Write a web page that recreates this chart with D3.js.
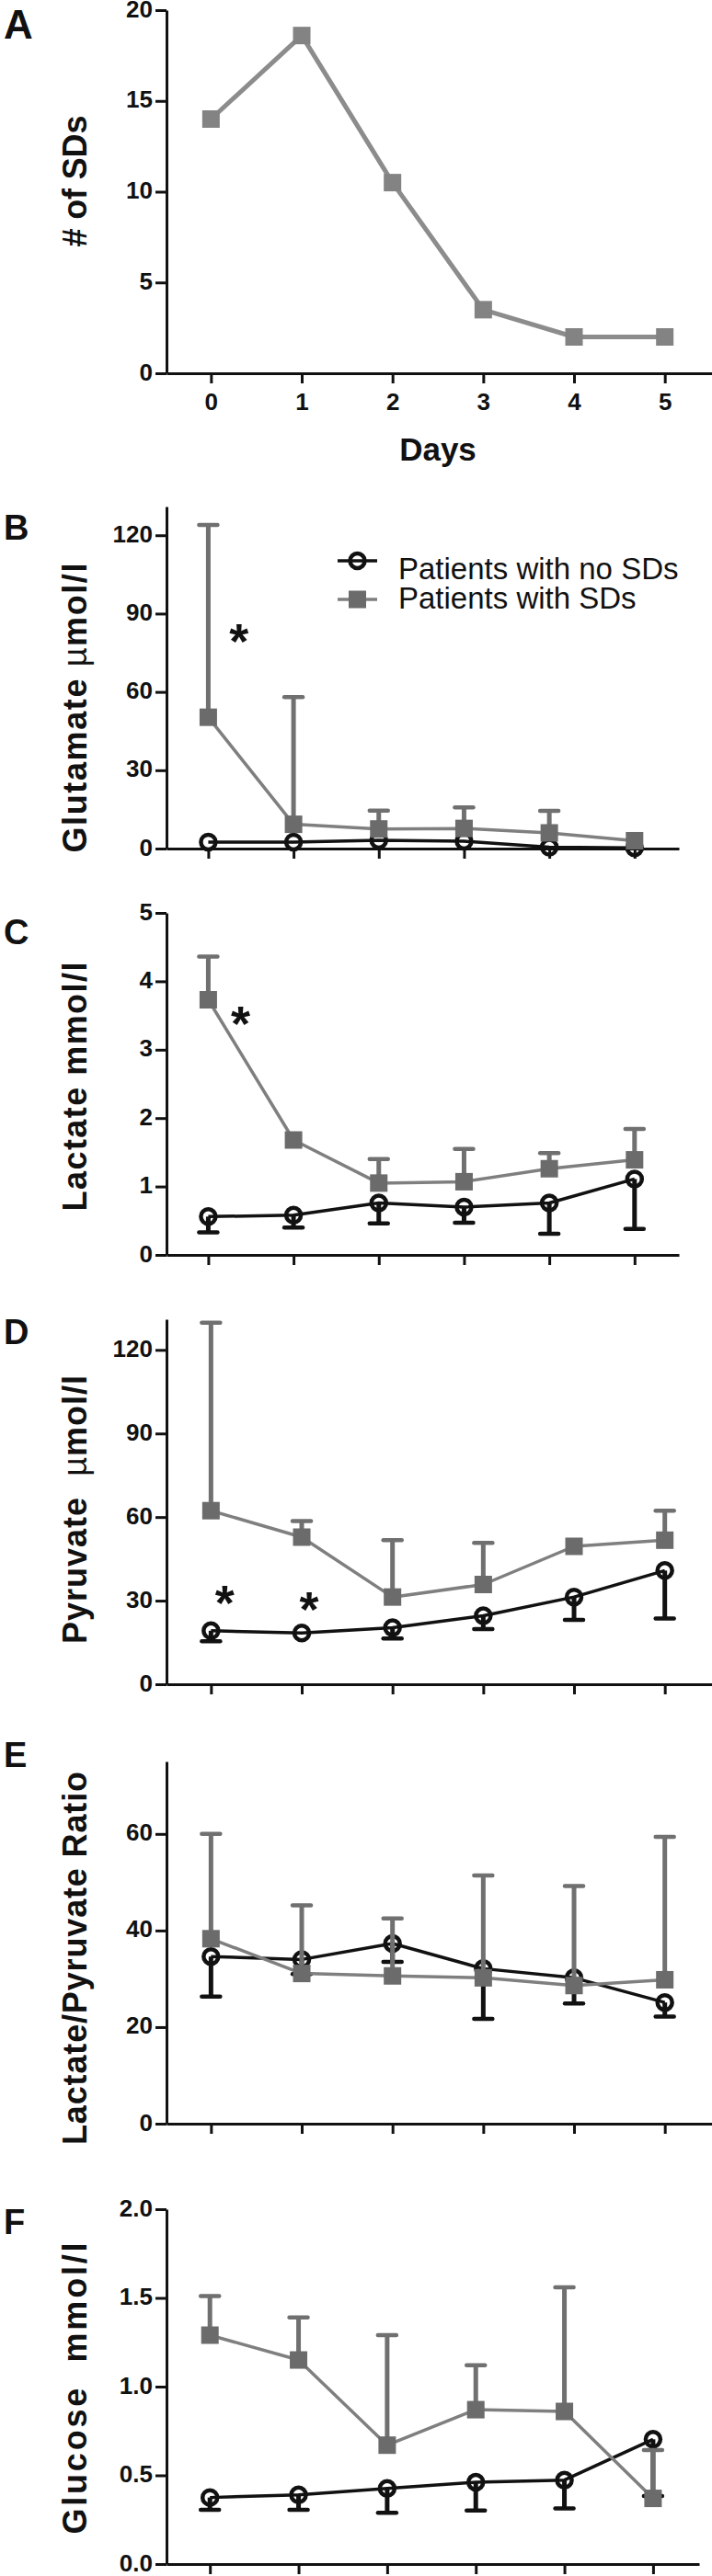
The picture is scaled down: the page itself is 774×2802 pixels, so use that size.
<!DOCTYPE html>
<html><head><meta charset="utf-8">
<script src="https://cdn.jsdelivr.net/npm/d3@7"></script>
<style>
body{margin:0;background:#fff}
svg{display:block}
text{font-family:"Liberation Sans",Arial,Helvetica,sans-serif}
</style>
</head><body>
<svg id="c" width="774" height="2802"></svg>
<script>
// ---------- DATA ----------
const days = [0, 1, 2, 3, 4, 5];
const dayLabels = ["0", "1", "2", "3", "4", "5"];

// A: number of SDs per day
const sdCount = [14, 18.6, 10.5, 3.5, 2, 2];

// B: Glutamate (umol/l)
const glutNo      = [2.5, 2.5, 3.2, 2.8, 0.5, 0.3];
const glutNoLow   = [null, null, null, null, null, null];
const glutSD      = [50.3, 9.3, 7.5, 7.7, 6.0, 3.0];
const glutSDHigh  = [124, 58, 14.5, 15.8, 14.4, null];

// C: Lactate (mmol/l)
const lacNo     = [0.56, 0.58, 0.76, 0.70, 0.76, 1.11];
const lacNoLow  = [0.33, 0.40, 0.46, 0.47, 0.31, 0.38];
const lacSD     = [3.73, 1.68, 1.05, 1.07, 1.26, 1.39];
const lacSDHigh = [4.36, null, 1.40, 1.55, 1.49, 1.84];

// D: Pyruvate (umol/l)
const pyrNo     = [19.2, 18.4, 20.3, 24.6, 31.3, 40.8];
const pyrNoLow  = [15.4, null, 16.4, 19.8, 23.1, 23.6];
const pyrSD     = [62.3, 52.8, 31.3, 35.8, 49.5, 51.7];
const pyrSDHigh = [129.8, 58.6, 51.7, 50.7, null, 62.3];

// E: Lactate/Pyruvate ratio
const ratNo     = [34.6, 34.0, 37.3, 32.1, 30.2, 25.1];
const ratNoLow  = [26.3, 31.0, 33.5, 21.7, 24.9, 22.2];
const ratSD     = [38.3, 31.1, 30.6, 30.2, 28.6, 29.8];
const ratSDHigh = [60.0, 45.2, 42.5, 51.4, 49.2, 59.4];

// F: Glucose (mmol/l)
const glcNo     = [0.375, 0.39, 0.426, 0.461, 0.473, 0.703];
const glcNoLow  = [0.306, 0.306, 0.289, 0.302, 0.314, 0.383];
const glcSD     = [1.29, 1.15, 0.67, 0.87, 0.86, 0.37];
const glcSDHigh = [1.51, 1.39, 1.29, 1.12, 1.56, 0.642];

// significance markers (day, value)
const starsB = [{day: 0.36, v: 83}];
const starsC = [{day: 0.38, v: 3.52}];
const starsD = [{day: 0.15, v: 32.6}, {day: 1.08, v: 30.3}];

const legendLabels = ["Patients with no SDs", "Patients with SDs"];

// ---------- STYLE ----------
const BLK = "#111";
const GREY_SQ = "#6b6b6b", GREY_LN = "#7f7f7f", GREY_ER = "#707070";
const A_LN = "#8c8c8c", A_SQ = "#838383";
const FONT_BOLD = 700;

const svg = d3.select("#c");
svg.append("rect").attr("width", 774).attr("height", 2802).attr("fill", "#fff");

const panels = [
  {label: "A", labelY: 42, labelSize: 44, yMax: 20, yTicks: [0, 5, 10, 15, 20], zeroY: 406, topY: 11, right: 774,
   title: [["# of SDs", 700]], titleY: 197, titleLen: 143, xLabels: true,
   single: sdCount},
  {label: "B", labelY: 587, labelSize: 38, yMax: 131, yTicks: [0, 30, 60, 90, 120], zeroY: 923, topY: 551, right: 738,
   title: [["Glutamate ", 700], ["\u00b5", 400], ["mol/l", 700]], titleY: 770, titleLen: 315,
   no: glutNo, noLow: glutNoLow, sd: glutSD, sdHigh: glutSDHigh, stars: starsB, legend: true},
  {label: "C", labelY: 1027, labelSize: 38, yMax: 5, yTicks: [0, 1, 2, 3, 4, 5], zeroY: 1365, topY: 993, right: 738,
   title: [["Lactate mmol/l", 700]], titleY: 1182, titleLen: 271,
   no: lacNo, noLow: lacNoLow, sd: lacSD, sdHigh: lacSDHigh, stars: starsC},
  {label: "D", labelY: 1462, labelSize: 38, yMax: 131, yTicks: [0, 30, 60, 90, 120], zeroY: 1832, topY: 1435, right: 774,
   title: [["Pyruvate  ", 700], ["\u00b5", 400], ["mol/l", 700]], titleY: 1642, titleLen: 292,
   no: pyrNo, noLow: pyrNoLow, sd: pyrSD, sdHigh: pyrSDHigh, stars: starsD},
  {label: "E", labelY: 1922, labelSize: 38, yMax: 75, yTicks: [0, 20, 40, 60], zeroY: 2310, topY: 1916, right: 774,
   title: [["Lactate/Pyruvate Ratio", 700]], titleY: 2130, titleLen: 406,
   no: ratNo, noLow: ratNoLow, sd: ratSD, sdHigh: ratSDHigh},
  {label: "F", labelY: 2430, labelSize: 38, yMax: 2, yTicks: [0, 0.5, 1, 1.5, 2], zeroY: 2789, topY: 2403, right: 760,
   title: [["Glucose  mmol/l", 700]], titleY: 2598, titleLen: 317, fmt: d3.format(".1f"),
   no: glcNo, noLow: glcNoLow, sd: glcSD, sdHigh: glcSDHigh}
];

function errorBars(g, x, y, mean, ends, color) {
  mean.forEach((v, i) => {
    const e = ends[i];
    if (e == null) return;
    const cx = x(days[i]);
    g.append("line").attr("x1", cx).attr("x2", cx).attr("y1", y(v)).attr("y2", y(e))
      .attr("stroke", color).attr("stroke-width", 5);
    g.append("line").attr("x1", cx - 10).attr("x2", cx + 10).attr("y1", y(e)).attr("y2", y(e))
      .attr("stroke", color).attr("stroke-width", 4.5).attr("stroke-linecap", "round");
  });
}

function seriesLine(g, x, y, vals, color, w) {
  g.append("path").datum(vals)
    .attr("d", d3.line().x((d, i) => x(days[i])).y(d => y(d)))
    .attr("fill", "none").attr("stroke", color).attr("stroke-width", w).attr("stroke-linejoin", "round");
}

function squares(g, x, y, vals, color, s) {
  g.selectAll(null).data(vals).enter().append("rect")
    .attr("x", (d, i) => x(days[i]) - s / 2).attr("y", d => y(d) - s / 2)
    .attr("width", s).attr("height", s).attr("fill", color);
}

function circles(g, x, y, vals) {
  g.selectAll(null).data(vals).enter().append("circle")
    .attr("cx", (d, i) => x(days[i])).attr("cy", d => y(d)).attr("r", 8)
    .attr("fill", "none").attr("stroke", BLK).attr("stroke-width", 4.5);
}

panels.forEach(p => {
  const g = svg.append("g");
  const x = d3.scaleLinear().domain([-0.49, 5.52]).range([181, p.right]);
  const y = d3.scaleLinear().domain([0, p.yMax]).range([p.zeroY, p.topY]);

  // axes
  const ya = g.append("g").attr("transform", "translate(181,0)")
    .call(d3.axisLeft(y).tickValues(p.yTicks).tickSize(12).tickPadding(3).tickSizeOuter(0)
      .tickFormat(p.fmt || d3.format("d")));
  const xa = g.append("g").attr("transform", `translate(0,${p.zeroY})`)
    .call(d3.axisBottom(x).tickValues(days).tickSize(11).tickPadding(11).tickSizeOuter(0)
      .tickFormat((d, i) => p.xLabels ? dayLabels[i] : ""));
  [ya, xa].forEach(a => {
    a.select(".domain").attr("stroke", BLK).attr("stroke-width", 3);
    a.selectAll(".tick line").attr("stroke", BLK).attr("stroke-width", 3);
    a.selectAll(".tick text").attr("fill", BLK).attr("font-size", 26).attr("font-weight", FONT_BOLD)
      .style("font-family", '"Liberation Sans",Arial,sans-serif');
  });
  ya.selectAll(".tick text").attr("dy", "0.27em");

  // panel label
  g.append("text").attr("x", 4).attr("y", p.labelY).text(p.label)
    .attr("font-size", p.labelSize).attr("font-weight", FONT_BOLD).attr("fill", BLK);

  // y title
  const t = g.append("text").attr("transform", `translate(94,${p.titleY}) rotate(-90)`)
    .attr("text-anchor", "middle").attr("font-size", 36).attr("fill", BLK)
    .attr("textLength", p.titleLen).attr("lengthAdjust", "spacing")
    .attr("xml:space", "preserve");
  p.title.forEach(([s, w]) => t.append("tspan").attr("font-weight", w).text(s));

  if (p.single) {
    seriesLine(g, x, y, p.single, A_LN, 5);
    squares(g, x, y, p.single, A_SQ, 19);
    g.append("text").attr("x", 476).attr("y", 501).attr("text-anchor", "middle")
      .attr("font-size", 35).attr("font-weight", FONT_BOLD).attr("fill", BLK).text("Days");
    return;
  }

  // patients without SDs (black circles, lower error)
  errorBars(g, x, y, p.no, p.noLow, BLK);
  seriesLine(g, x, y, p.no, BLK, 3.5);
  circles(g, x, y, p.no);
  // patients with SDs (grey squares, upper error)
  errorBars(g, x, y, p.sd, p.sdHigh, GREY_ER);
  seriesLine(g, x, y, p.sd, GREY_LN, 3.5);
  squares(g, x, y, p.sd, GREY_SQ, 19);

  (p.stars || []).forEach(s => {
    g.append("text").attr("x", x(s.day)).attr("y", y(s.v) + 29).attr("text-anchor", "middle")
      .attr("font-size", 54).attr("font-weight", FONT_BOLD).attr("fill", BLK).text("*");
  });

  if (p.legend) {
    const lg = g.append("g");
    lg.append("line").attr("x1", 367).attr("x2", 410).attr("y1", 610).attr("y2", 610)
      .attr("stroke", BLK).attr("stroke-width", 3.5);
    lg.append("circle").attr("cx", 388.5).attr("cy", 610).attr("r", 8)
      .attr("fill", "none").attr("stroke", BLK).attr("stroke-width", 4.5);
    lg.append("text").attr("x", 433).attr("y", 630).attr("font-size", 33).attr("fill", BLK).text(legendLabels[0]);
    lg.append("line").attr("x1", 367).attr("x2", 410).attr("y1", 652).attr("y2", 652)
      .attr("stroke", GREY_LN).attr("stroke-width", 3.5);
    lg.append("rect").attr("x", 379).attr("y", 642.5).attr("width", 19).attr("height", 19).attr("fill", GREY_SQ);
    lg.append("text").attr("x", 433).attr("y", 662).attr("font-size", 33).attr("fill", BLK).text(legendLabels[1]);
  }
});
</script>
</body></html>
